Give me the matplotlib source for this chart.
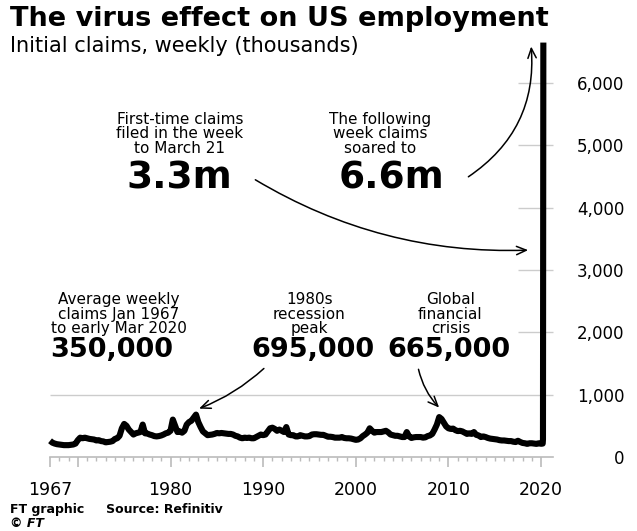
import numpy as np
import matplotlib
matplotlib.use("Agg")
import matplotlib.pyplot as plt

plt.rcParams['font.family'] = ['DejaVu Sans']

# quarterly readings of weekly initial claims (thousands), 1967 Q1 .. 2019 Q4
claims_q = [
    260, 230, 215, 205,   # 1967
    200, 195, 190, 190,   # 1968
    190, 195, 200, 215,   # 1969
    270, 310, 300, 310,   # 1970
    300, 290, 285, 280,   # 1971
    265, 270, 255, 250,   # 1972
    235, 240, 245, 255,   # 1973
    290, 300, 340, 460,   # 1974
    530, 500, 440, 400,   # 1975
    360, 380, 390, 400,   # 1976
    520, 380, 375, 360,   # 1977
    350, 335, 330, 335,   # 1978
    345, 360, 380, 390,   # 1979
    420, 600, 500, 400,   # 1980
    410, 390, 420, 520,   # 1981
    560, 580, 630, 680,   # 1982
    560, 480, 410, 380,   # 1983
    350, 355, 360, 370,   # 1984
    385, 380, 385, 380,   # 1985
    375, 370, 370, 360,   # 1986
    340, 330, 310, 300,   # 1987
    310, 305, 310, 300,   # 1988
    300, 320, 340, 360,   # 1989
    350, 360, 410, 460,   # 1990
    470, 450, 420, 440,   # 1991
    420, 400, 480, 360,   # 1992
    350, 350, 330, 330,   # 1993
    350, 340, 330, 330,   # 1994
    335, 360, 365, 365,   # 1995
    360, 355, 355, 340,   # 1996
    325, 325, 320, 310,   # 1997
    310, 310, 320, 305,   # 1998
    300, 300, 295, 285,   # 1999
    275, 280, 300, 335,   # 2000
    360, 390, 460, 420,   # 2001
    390, 400, 400, 400,   # 2002
    410, 420, 395, 360,   # 2003
    350, 340, 340, 330,   # 2004
    320, 320, 400, 330,   # 2005
    305, 315, 320, 320,   # 2006
    320, 310, 315, 335,   # 2007
    345, 370, 440, 520,   # 2008
    640, 610, 550, 490,   # 2009
    460, 450, 455, 430,   # 2010
    415, 420, 410, 390,   # 2011
    370, 380, 370, 400,   # 2012
    355, 345, 320, 330,   # 2013
    320, 305, 295, 290,   # 2014
    285, 280, 270, 265,   # 2015
    265, 260, 255, 255,   # 2016
    245, 240, 260, 240,   # 2017
    225, 220, 210, 220,   # 2018
    220, 215, 210, 220,   # 2019
]
dates_q = 1967 + np.arange(len(claims_q)) / 4.0

# early 2020 weekly points
dates_2020 = [2020.0, 2020.17, 2020.20, 2020.22, 2020.24]
claims_2020 = [212, 215, 282, 3307, 6648]

dates = np.concatenate([dates_q, dates_2020])
claims = np.concatenate([claims_q, claims_2020])

ytick_vals = [0, 1000, 2000, 3000, 4000, 5000, 6000]
ytick_labels = ['0', '1,000', '2,000', '3,000', '4,000', '5,000', '6,000']
xtick_vals = [1967, 1970, 1980, 1990, 2000, 2010, 2020]
xtick_labels = ['1967', '', '1980', '1990', '2000', '2010', '2020']
grid_full = [1000]
grid_short = [2000, 3000, 4000, 5000, 6000]

fig = plt.figure(figsize=(6.37, 5.31), dpi=100)
ax = fig.add_axes([0.0713, 0.1394, 0.800, 0.810])

ax.hlines(grid_full, 1967, 2021.3, color='#cccccc', lw=1, zorder=1)
ax.hlines(grid_short, 2017.5, 2021.3, color='#cccccc', lw=1, zorder=1)

ax.plot(dates, claims, color='black', lw=4.4, solid_joinstyle='round',
        solid_capstyle='butt', zorder=3, clip_on=False)

ax.set_xlim(1966.5, 2021.5)
ax.set_ylim(0, 6900)

for s in ['top', 'left', 'right']:
    ax.spines[s].set_visible(False)
ax.spines['bottom'].set_bounds(1967, 2021.3)
ax.spines['bottom'].set_color('#bbbbbb')
ax.spines['bottom'].set_linewidth(1.2)

ax.set_xticks(xtick_vals)
ax.set_xticklabels(xtick_labels)
ax.set_xticks(np.arange(1967, 2021), minor=True)
ax.tick_params(axis='x', which='major', length=7, width=1.2, color='#bbbbbb',
               labelsize=12.5, pad=10)
ax.tick_params(axis='x', which='minor', length=3, width=1, color='#bbbbbb')

ax.yaxis.tick_right()
ax.set_yticks(ytick_vals)
ax.set_yticklabels(ytick_labels)
ax.tick_params(axis='y', length=0, labelsize=12, pad=50)
for lab in ax.get_yticklabels():
    lab.set_horizontalalignment('right')

# title block
fig.text(0.016, 0.965, 'The virus effect on US employment', fontsize=19.5,
         fontweight='bold', va='center', ha='left')
fig.text(0.016, 0.914, 'Initial claims, weekly (thousands)', fontsize=15,
         va='center', ha='left')

# footer
fig.text(0.016, 0.04, 'FT graphic     Source: Refinitiv', fontsize=9,
         fontweight='bold', va='center', ha='left')
fig.text(0.016, 0.014, '\u00a9 FT', fontsize=9, fontweight='bold',
         style='italic', va='center', ha='left')

small = dict(fontsize=11, ha='center', va='top', linespacing=0.93)
big = dict(fontweight='bold', ha='center', va='center')

ax.text(1981.0, 5530, 'First-time claims\nfiled in the week\nto March 21', **small)
ax.text(1981.0, 4470, '3.3m', fontsize=27, **big)
ax.text(2002.6, 5530, 'The following\nweek claims\nsoared to', **small)
ax.text(2003.9, 4470, '6.6m', fontsize=27, **big)

ax.text(1974.4, 2640, 'Average weekly\nclaims Jan 1967\nto early Mar 2020', **small)
ax.text(1973.6, 1720, '350,000', fontsize=19.5, **big)
ax.text(1995.0, 2640, '1980s\nrecession\npeak', **small)
ax.text(1995.4, 1720, '695,000', fontsize=19.5, **big)
ax.text(2010.2, 2640, 'Global\nfinancial\ncrisis', **small)
ax.text(2010.1, 1720, '665,000', fontsize=19.5, **big)

arrow = dict(arrowstyle='->,head_length=0.7,head_width=0.3', color='black', lw=1.1)
ax.annotate('', xy=(2018.9, 3320), xytext=(1988.9, 4470),
            arrowprops=dict(connectionstyle='arc3,rad=0.15', **arrow))
ax.annotate('', xy=(2018.9, 6630), xytext=(2011.9, 4470),
            arrowprops=dict(connectionstyle='arc3,rad=0.3', **arrow))
ax.annotate('', xy=(1982.8, 760), xytext=(1990.3, 1450),
            arrowprops=dict(connectionstyle='arc3,rad=-0.1', **arrow))
ax.annotate('', xy=(2009.2, 760), xytext=(2006.7, 1450),
            arrowprops=dict(connectionstyle='arc3,rad=0.15', **arrow))

fig.savefig('out.png', dpi=100)
